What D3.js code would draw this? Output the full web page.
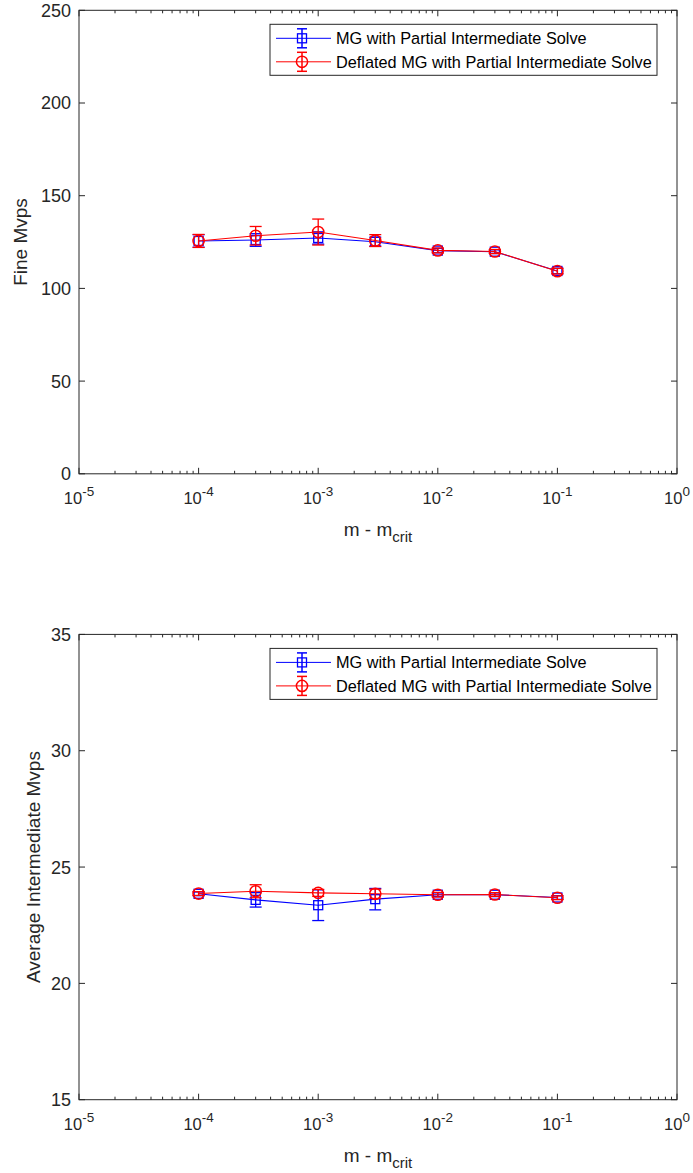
<!DOCTYPE html>
<html>
<head>
<meta charset="utf-8">
<script src="https://cdn.jsdelivr.net/npm/d3@7"></script>
<style>
  html, body { margin: 0; padding: 0; background: #fff; }
  svg { display: block; font-family: "Liberation Sans", Arial, Helvetica, sans-serif; }
</style>
</head>
<body>
<svg id="chart" width="693" height="1173"></svg>
<script>
// ---- data ----
const xValues = [1e-4, 3e-4, 1e-3, 3e-3, 1e-2, 3e-2, 1e-1];
const seriesNames = ["MG with Partial Intermediate Solve", "Deflated MG with Partial Intermediate Solve"];

const fineMG        = [125.6, 126.1, 127.2, 125.2, 120.4, 119.8, 109.4];
const fineMGErr     = [3.4, 3.4, 3.3, 2.4, 1.2, 1.0, 1.5];
const fineDefl      = [125.6, 128.4, 130.4, 125.8, 120.5, 119.9, 109.3];
const fineDeflErr   = [3.5, 5.0, 7.0, 3.2, 1.3, 1.1, 1.5];

const interMG       = [23.85, 23.59, 23.36, 23.62, 23.81, 23.81, 23.69];
const interMGErr    = [0.08, 0.31, 0.66, 0.46, 0.08, 0.08, 0.08];
const interDefl     = [23.86, 23.96, 23.89, 23.85, 23.81, 23.82, 23.68];
const interDeflErr  = [0.08, 0.28, 0.15, 0.20, 0.10, 0.08, 0.08];

const xTickExps   = [-5, -4, -3, -2, -1, 0];
const fineYTicks  = [0, 50, 100, 150, 200, 250];
const interYTicks = [15, 20, 25, 30, 35];

const colors = ["#0000ff", "#ff0000"];
const markerShapes = ["square", "circle"];
const axisColor = "#262626";

const svg = d3.select("#chart");

function drawPanel(opts) {
  const left = 79, right = 677;
  const x = d3.scaleLog().domain([1e-5, 1]).range([left, right]);
  const y = d3.scaleLinear().domain(opts.yDomain).range([opts.bottom, opts.top]);
  const g = svg.append("g");

  // frame
  g.append("rect")
    .attr("x", left).attr("y", opts.top)
    .attr("width", right - left).attr("height", opts.bottom - opts.top)
    .attr("fill", "none").attr("stroke", axisColor).attr("stroke-width", 1);

  // x major + minor ticks (bottom and top)
  const minor = [];
  for (let e = -5; e < 0; e++) for (let k = 2; k <= 9; k++) minor.push(k * Math.pow(10, e));
  const major = xTickExps.map(e => Math.pow(10, e));
  [[opts.bottom, -1], [opts.top, 1]].forEach(([yy, dir]) => {
    g.selectAll(null).data(major).enter().append("line")
      .attr("x1", d => x(d)).attr("x2", d => x(d))
      .attr("y1", yy).attr("y2", yy + dir * 6)
      .attr("stroke", axisColor);
    g.selectAll(null).data(minor).enter().append("line")
      .attr("x1", d => x(d)).attr("x2", d => x(d))
      .attr("y1", yy).attr("y2", yy + dir * 3)
      .attr("stroke", axisColor);
  });
  // y ticks (left and right)
  [[left, 1], [right, -1]].forEach(([xx, dir]) => {
    g.selectAll(null).data(opts.yTicks).enter().append("line")
      .attr("x1", xx).attr("x2", xx + dir * 6)
      .attr("y1", d => y(d)).attr("y2", d => y(d))
      .attr("stroke", axisColor);
  });

  // y tick labels
  g.selectAll(null).data(opts.yTicks).enter().append("text")
    .attr("x", left - 8).attr("y", d => y(d)).attr("dy", "0.36em")
    .attr("text-anchor", "end").attr("font-size", 18).attr("fill", axisColor)
    .text(d => d);

  // x tick labels 10^e
  const xl = g.selectAll(null).data(xTickExps).enter().append("text")
    .attr("x", d => x(Math.pow(10, d)))
    .attr("y", opts.bottom + 30.5)
    .attr("text-anchor", "middle").attr("fill", axisColor);
  xl.append("tspan").attr("font-size", 16.5).text("10");
  xl.append("tspan").attr("font-size", 13.5).attr("dy", -8).text(d => d);

  // axis labels
  const xlab = g.append("text")
    .attr("x", (left + right) / 2).attr("y", opts.bottom + 62)
    .attr("text-anchor", "middle").attr("font-size", 19).attr("fill", axisColor);
  xlab.append("tspan").text("m - m");
  xlab.append("tspan").attr("font-size", 15).attr("dy", 6).text("crit");

  g.append("text")
    .attr("transform", `translate(${opts.yLabelX},${(opts.top + opts.bottom) / 2}) rotate(-90)`)
    .attr("text-anchor", "middle").attr("font-size", 19).attr("fill", axisColor)
    .text(opts.yLabel);

  // series
  const cap = 6;
  opts.series.forEach((s, i) => {
    const col = colors[i];
    const pts = xValues.map((xv, j) => ({ x: xv, y: s.values[j], e: s.errors[j] }));
    const line = d3.line().x(d => x(d.x)).y(d => y(d.y));
    g.append("path").datum(pts).attr("d", line)
      .attr("fill", "none").attr("stroke", col).attr("stroke-width", 1.1);
    const eb = g.selectAll(null).data(pts).enter().append("g");
    eb.append("line").attr("x1", d => x(d.x)).attr("x2", d => x(d.x))
      .attr("y1", d => y(d.y - d.e)).attr("y2", d => y(d.y + d.e))
      .attr("stroke", col).attr("stroke-width", 1.3);
    eb.append("line").attr("x1", d => x(d.x) - cap).attr("x2", d => x(d.x) + cap)
      .attr("y1", d => y(d.y - d.e)).attr("y2", d => y(d.y - d.e))
      .attr("stroke", col).attr("stroke-width", 1.3);
    eb.append("line").attr("x1", d => x(d.x) - cap).attr("x2", d => x(d.x) + cap)
      .attr("y1", d => y(d.y + d.e)).attr("y2", d => y(d.y + d.e))
      .attr("stroke", col).attr("stroke-width", 1.3);
    drawMarkers(eb, markerShapes[i], col, d => x(d.x), d => y(d.y));
  });

  // legend
  const lx = 270, ly = opts.top + 14, lw = 387, lh = 51;
  g.append("rect").attr("x", lx).attr("y", ly).attr("width", lw).attr("height", lh)
    .attr("fill", "#fff").attr("stroke", axisColor).attr("stroke-width", 1);
  seriesNames.forEach((name, i) => {
    const ry = ly + 14 + i * 23.5;
    const col = colors[i];
    const lg = g.append("g");
    lg.append("line").attr("x1", lx + 6).attr("x2", lx + 61).attr("y1", ry).attr("y2", ry)
      .attr("stroke", col).attr("stroke-width", 1);
    const mx = lx + 32;
    lg.append("line").attr("x1", mx).attr("x2", mx).attr("y1", ry - 9.5).attr("y2", ry + 9.5)
      .attr("stroke", col).attr("stroke-width", 1.5);
    [ry - 9.5, ry + 9.5].forEach(yy => lg.append("line")
      .attr("x1", mx - 5).attr("x2", mx + 5).attr("y1", yy).attr("y2", yy)
      .attr("stroke", col).attr("stroke-width", 1.5));
    drawMarkers(lg.selectAll(null).data([0]).enter().append("g"), markerShapes[i], col, () => mx, () => ry);
    lg.append("text").attr("x", lx + 66).attr("y", ry).attr("dy", "0.36em")
      .attr("font-size", 16.3).attr("fill", "#000").text(name);
  });
}

function drawMarkers(sel, shape, col, fx, fy) {
  if (shape === "square") {
    sel.append("rect")
      .attr("x", d => fx(d) - 4.5).attr("y", d => fy(d) - 4.5)
      .attr("width", 9).attr("height", 9)
      .attr("fill", "none").attr("stroke", col).attr("stroke-width", 1.3);
  } else {
    sel.append("circle")
      .attr("cx", fx).attr("cy", fy).attr("r", 5.6)
      .attr("fill", "none").attr("stroke", col).attr("stroke-width", 1.5);
  }
}

drawPanel({
  top: 10.3, bottom: 473.8, yDomain: [0, 250], yTicks: fineYTicks,
  yLabel: "Fine Mvps", yLabelX: 27,
  series: [{ values: fineMG, errors: fineMGErr }, { values: fineDefl, errors: fineDeflErr }]
});
drawPanel({
  top: 634.4, bottom: 1099.7, yDomain: [15, 35], yTicks: interYTicks,
  yLabel: "Average Intermediate Mvps", yLabelX: 39.5,
  series: [{ values: interMG, errors: interMGErr }, { values: interDefl, errors: interDeflErr }]
});
</script>
</body>
</html>
